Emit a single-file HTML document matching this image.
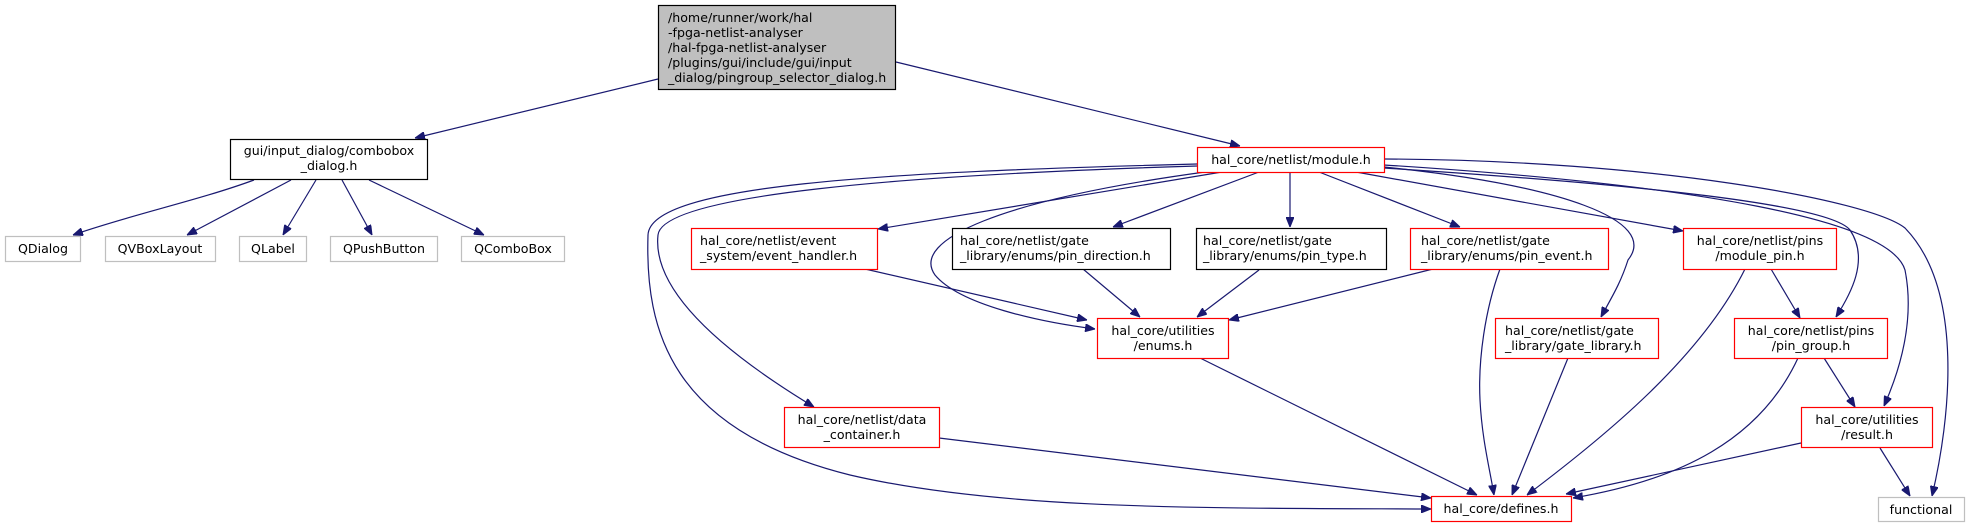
<!DOCTYPE html>
<html><head><meta charset="utf-8"><style>
html,body{margin:0;padding:0;background:#fff;}
svg{display:block;}
text{font-family:"DejaVu Sans","Liberation Sans",sans-serif;font-size:12.6px;fill:#000;}
.e{fill:none;stroke:#191970;stroke-width:1.2;}
</style></head><body>
<svg width="1970" height="528" viewBox="0 0 1970 528" xmlns="http://www.w3.org/2000/svg">
<defs>
<marker id="a" viewBox="0 0 10 8" refX="10" refY="4" markerWidth="10" markerHeight="8" markerUnits="userSpaceOnUse" orient="auto">
<path d="M0,0 L10,4 L0,8 z" fill="#191970" stroke="#191970"/>
</marker>
</defs>
<g class="e" marker-end="url(#a)">
<path d="M658,79 L415,138"/>
<path d="M896,62 L1240,146"/>
<path d="M254,180 C200,200 130,215 73,235"/>
<path d="M291,180 L187,235"/>
<path d="M316,180 L283,235"/>
<path d="M342,180 L372,235"/>
<path d="M369,180 L484,235"/>
<path d="M1222,172 L878,229"/>
<path d="M1259,172 L1113,227"/>
<path d="M1290,172 L1290,227"/>
<path d="M1319,172 L1460,227"/>
<path d="M1356,172 L1683,231"/>
<path d="M1384,167 C1560,185 1660,220 1628,260 C1620,285 1610,300 1601,317"/>
<path d="M1384,168 C1650,185 1830,205 1850,230 C1870,260 1850,295 1836,317"/>
<path d="M1384,165 C1700,185 1890,220 1905,270 C1915,320 1900,370 1884,406"/>
<path d="M1384,159 C1650,160 1870,200 1905,228 C1965,290 1950,420 1932,496"/>
<path d="M1205,172 C1000,200 910,240 935,275 C960,305 1040,322 1095,329"/>
<path d="M1197,166 C900,175 662,195 658,235 C652,290 720,350 814,407"/>
<path d="M1197,164 C880,172 650,185 648,235 C645,330 670,430 850,475 C1000,510 1200,508 1431,509"/>
<path d="M865,269 L1087,320"/>
<path d="M1083,269 L1140,317"/>
<path d="M1259,270 L1197,317"/>
<path d="M1433,269 L1229,320"/>
<path d="M1500,269 C1485,310 1478,360 1480,400 C1482,440 1490,470 1494,495"/>
<path d="M1200,358 L1477,495"/>
<path d="M939,438 L1431,498"/>
<path d="M1568,358 L1512,495"/>
<path d="M1745,269 C1700,360 1600,440 1527,495"/>
<path d="M1771,269 L1800,318"/>
<path d="M1798,358 C1760,440 1680,480 1573,498"/>
<path d="M1824,358 L1855,407"/>
<path d="M1801,443 L1566,494"/>
<path d="M1880,448 L1910,496"/>
</g>
<g stroke-width="1.2">
<rect x="658.5" y="5.5" width="237" height="84" fill="#bfbfbf" stroke="#000"/>
<rect x="230.5" y="139.5" width="197" height="40" fill="#fff" stroke="#000"/>
<rect x="5.5" y="236.5" width="75" height="25" fill="#fff" stroke="#bfbfbf"/>
<rect x="105.5" y="236.5" width="110" height="25" fill="#fff" stroke="#bfbfbf"/>
<rect x="239.5" y="236.5" width="67" height="25" fill="#fff" stroke="#bfbfbf"/>
<rect x="330.5" y="236.5" width="107" height="25" fill="#fff" stroke="#bfbfbf"/>
<rect x="461.5" y="236.5" width="103" height="25" fill="#fff" stroke="#bfbfbf"/>
<rect x="1197.5" y="147.5" width="187" height="25" fill="#fff" stroke="#f00"/>
<rect x="691.5" y="228.5" width="186" height="41" fill="#fff" stroke="#f00"/>
<rect x="952.5" y="228.5" width="218" height="41" fill="#fff" stroke="#000"/>
<rect x="1196.5" y="228.5" width="190" height="41" fill="#fff" stroke="#000"/>
<rect x="1410.5" y="228.5" width="198" height="41" fill="#fff" stroke="#f00"/>
<rect x="1683.5" y="228.5" width="153" height="41" fill="#fff" stroke="#f00"/>
<rect x="1097.5" y="318.5" width="131" height="40" fill="#fff" stroke="#f00"/>
<rect x="1495.5" y="318.5" width="163" height="40" fill="#fff" stroke="#f00"/>
<rect x="1734.5" y="318.5" width="153" height="40" fill="#fff" stroke="#f00"/>
<rect x="784.5" y="407.5" width="155" height="40" fill="#fff" stroke="#f00"/>
<rect x="1801.5" y="407.5" width="131" height="40" fill="#fff" stroke="#f00"/>
<rect x="1431.5" y="496.5" width="140" height="25" fill="#fff" stroke="#f00"/>
<rect x="1878.5" y="497.5" width="86" height="24" fill="#fff" stroke="#bfbfbf"/>
</g>
<text x="668" y="22">/home/runner/work/hal</text>
<text x="668" y="37">-fpga-netlist-analyser</text>
<text x="668" y="52">/hal-fpga-netlist-analyser</text>
<text x="668" y="67">/plugins/gui/include/gui/input</text>
<text x="668" y="82">_dialog/pingroup_selector_dialog.h</text>
<g text-anchor="middle">
<text x="329" y="155">gui/input_dialog/combobox</text>
<text x="329" y="170">_dialog.h</text>
<text x="43" y="253">QDialog</text>
<text x="160" y="253">QVBoxLayout</text>
<text x="273" y="253">QLabel</text>
<text x="384" y="253">QPushButton</text>
<text x="513" y="253">QComboBox</text>
<text x="1291" y="164">hal_core/netlist/module.h</text>
<text x="1760" y="245">hal_core/netlist/pins</text>
<text x="1760" y="260">/module_pin.h</text>
<text x="1163" y="335">hal_core/utilities</text>
<text x="1163" y="350">/enums.h</text>
<text x="1811" y="335">hal_core/netlist/pins</text>
<text x="1811" y="350">/pin_group.h</text>
<text x="862" y="424">hal_core/netlist/data</text>
<text x="862" y="439">_container.h</text>
<text x="1867" y="424">hal_core/utilities</text>
<text x="1867" y="439">/result.h</text>
<text x="1501" y="513">hal_core/defines.h</text>
<text x="1921" y="514">functional</text>
</g>
<text x="700" y="245">hal_core/netlist/event</text>
<text x="700" y="260">_system/event_handler.h</text>
<text x="960" y="245">hal_core/netlist/gate</text>
<text x="960" y="260">_library/enums/pin_direction.h</text>
<text x="1203" y="245">hal_core/netlist/gate</text>
<text x="1203" y="260">_library/enums/pin_type.h</text>
<text x="1421" y="245">hal_core/netlist/gate</text>
<text x="1421" y="260">_library/enums/pin_event.h</text>
<text x="1505" y="335">hal_core/netlist/gate</text>
<text x="1505" y="350">_library/gate_library.h</text>
</svg>
</body></html>
